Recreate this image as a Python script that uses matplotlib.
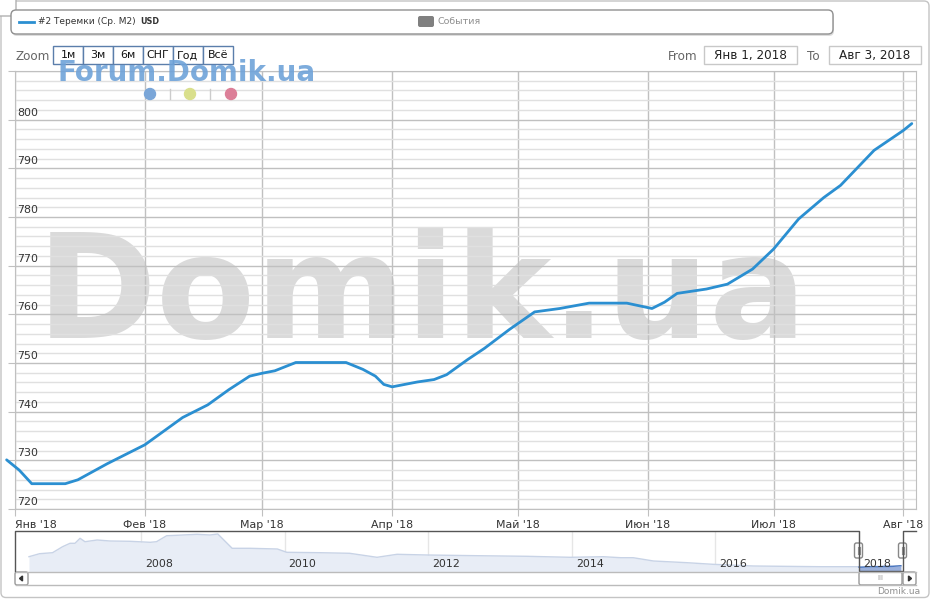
import matplotlib
matplotlib.use("Agg")
import matplotlib.pyplot as plt
from matplotlib.patches import FancyBboxPatch, Rectangle, Circle, Polygon
from datetime import datetime

# main series (USD per m2)
main_dates = ["2017-12-30", "2018-01-02", "2018-01-05", "2018-01-13", "2018-01-16",
              "2018-01-23", "2018-02-01", "2018-02-10", "2018-02-16", "2018-02-21",
              "2018-02-26", "2018-03-01", "2018-03-04", "2018-03-09", "2018-03-21",
              "2018-03-25", "2018-03-28", "2018-03-30", "2018-04-01", "2018-04-07",
              "2018-04-11", "2018-04-14", "2018-04-19", "2018-04-23", "2018-04-29",
              "2018-05-05", "2018-05-11", "2018-05-18", "2018-05-27", "2018-06-02",
              "2018-06-05", "2018-06-08", "2018-06-15", "2018-06-20", "2018-06-26",
              "2018-07-01", "2018-07-07", "2018-07-13", "2018-07-17", "2018-07-25",
              "2018-08-01", "2018-08-03"]
main_values = [730.1, 728.0, 725.2, 725.2, 726.0,
               729.3, 733.2, 738.8, 741.4, 744.5,
               747.3, 747.9, 748.4, 750.1, 750.1,
               748.7, 747.3, 745.6, 745.1, 746.1,
               746.6, 747.6, 750.7, 753.0, 756.9,
               760.5, 761.2, 762.3, 762.3, 761.2,
               762.5, 764.3, 765.2, 766.2, 769.3,
               773.4, 779.6, 784.0, 786.5, 793.7,
               797.8, 799.2]

# navigator (full history), rough readings
nav_dates = ["2006-06-10", "2006-08-03", "2006-10-08", "2006-11-28", "2007-01-05",
             "2007-01-30", "2007-02-25", "2007-03-22", "2007-05-23", "2007-07-27",
             "2007-11-06", "2008-02-17", "2008-03-20", "2008-05-11", "2008-07-01",
             "2008-10-12", "2008-12-17", "2009-01-26", "2009-04-09", "2009-07-09",
             "2009-11-25", "2010-01-12", "2010-06-28", "2010-11-28", "2011-04-16",
             "2011-07-27", "2011-12-28", "2012-09-05", "2013-05-19", "2013-12-24",
             "2014-06-10", "2014-09-06", "2014-11-10", "2015-02-21", "2015-08-11",
             "2015-12-20", "2016-07-13", "2017-06-17", "2018-01-08", "2018-08-03"]
nav_values = [1250, 1400, 1450, 1750, 1920,
              1920, 2170, 2000, 2085, 2035,
              2020, 1970, 2000, 2300, 2320,
              2370, 2335, 2385, 1670, 1670,
              1635, 1470, 1450, 1420, 1220,
              1370, 1335, 1300, 1270, 1220,
              1250, 1200, 1200, 1035, 950,
              870, 785, 750, 750, 785]

month_labels = ["Янв '18", "Фев '18", "Мар '18", "Апр '18", "Май '18", "Июн '18", "Июл '18", "Авг '18"]
nav_years = [2008, 2010, 2012, 2014, 2016, 2018]
zoom_buttons = ["1м", "3м", "6м", "СНГ", "Год", "Всё"]

W, H = 931, 600
LINE = "#2b8fd1"


def px_axes(x0, y0, x1, y1):
    return [x0 / W, 1 - y1 / H, (x1 - x0) / W, (y1 - y0) / H]


def pt(px):
    return px * 0.72


mdates_main = [datetime.strptime(d, "%Y-%m-%d") for d in main_dates]
mdates_nav = [datetime.strptime(d, "%Y-%m-%d") for d in nav_dates]
month_ticks = [datetime(2018, m, 1) for m in range(1, 9)]

fig = plt.figure(figsize=(W / 100, H / 100), dpi=100)

# overlay in pixel coordinates
ov = fig.add_axes([0, 0, 1, 1], zorder=10)
ov.set_xlim(0, W)
ov.set_ylim(H, 0)
ov.axis("off")

# main plot
ax = fig.add_axes(px_axes(15, 71, 916, 509))
ax.set_xlim(datetime(2018, 1, 1), datetime(2018, 8, 4))
ax.set_ylim(720, 810)
ax.set_yticks(range(720, 811, 10))
ax.set_yticks(range(720, 811, 2), minor=True)
ax.set_xticks(month_ticks)
ax.set_xticklabels(month_labels)
ax.set_axisbelow(True)
ax.yaxis.grid(True, which="major", color="#c0c0c0", lw=1)
ax.yaxis.grid(True, which="minor", color="#e0e0e0", lw=1)
ax.xaxis.grid(True, which="major", color="#c0c0c0", lw=1)
ax.tick_params(axis="y", which="major", length=5, color="#c0c0c0", labelleft=False)
ax.tick_params(axis="y", which="minor", length=0)
ax.tick_params(axis="x", length=5, color="#c0c0c0", labelsize=pt(11), labelcolor="#333333", pad=3)
for s in ax.spines.values():
    s.set_color("#c0c0c0")
for v in range(720, 801, 10):
    ax.annotate(str(v), (0, v), xycoords=("axes fraction", "data"), xytext=(2, 2),
                textcoords="offset pixels", fontsize=pt(11), color="#333333",
                ha="left", va="bottom")
# shift Jan label so it starts at the axis
ax.get_xticklabels()[0].set_horizontalalignment("left")

# big watermark behind the grid
ax.text(37, 338, "Domik.ua", transform=ov.transData, fontsize=104, fontweight="bold",
        color="#dadada", ha="left", va="baseline", zorder=0.2, clip_on=False)

ax.plot(mdates_main, main_values, color=LINE, lw=2, zorder=4, clip_on=False,
        solid_joinstyle="round", solid_capstyle="round")

# navigator
axn = fig.add_axes(px_axes(16, 531, 916, 571.7))
axn.set_xlim(datetime(2006, 4, 5), datetime(2018, 10, 19))
axn.set_ylim(500, 2535)
axn.fill_between(mdates_nav, nav_values, 500, color="#e8edf6", lw=0)
axn.plot(mdates_nav, nav_values, color="#c8d3e6", lw=1)
sel = [d for d in mdates_main if d >= datetime(2018, 1, 1)]
selv = main_values[-len(sel):]
axn.fill_between(sel, selv, 500, color="#9ab0dc", lw=0)
axn.plot(sel, selv, color="#4a76bf", lw=1)
for yr in nav_years:
    d = datetime(yr, 1, 1)
    axn.axvline(d, color="#e6e6e6", lw=1, zorder=0)
    axn.annotate(str(yr), (d, 0), xycoords=("data", "axes fraction"), xytext=(4, 3),
                 textcoords="offset pixels", fontsize=pt(11), color="#333333",
                 ha="left", va="bottom")
axn.set_xticks([])
axn.set_yticks([])
for s in axn.spines.values():
    s.set_visible(False)

# navigator outline and handles
ov.plot([15, 15, 858.5, 858.5, 902.5, 902.5, 916], [571, 531, 531, 571, 571, 531, 531],
        color="#555555", lw=1)
for hx in (858.5, 902.5):
    ov.add_patch(FancyBboxPatch((hx - 4, 543), 8, 15, boxstyle="round,pad=0,rounding_size=2",
                                fc="white", ec="#888888", lw=1))
    ov.plot([hx - 1, hx - 1], [547, 554], color="#888888", lw=0.8)
    ov.plot([hx + 1, hx + 1], [547, 554], color="#888888", lw=0.8)

# scrollbar
ov.plot([16, 916], [572, 572], color="#bbbbbb", lw=1)
ov.plot([16, 916], [585, 585], color="#bbbbbb", lw=1)
ov.add_patch(FancyBboxPatch((15, 572), 13, 13, boxstyle="round,pad=0,rounding_size=2",
                            fc="white", ec="#999999", lw=1))
ov.add_patch(Polygon([[22.5, 576], [22.5, 581], [19.5, 578.5]], color="#333333"))
ov.add_patch(FancyBboxPatch((859, 572), 43, 13, boxstyle="round,pad=0,rounding_size=2",
                            fc="white", ec="#999999", lw=1))
ov.text(880.5, 578.5, "III", fontsize=pt(7), color="#999999", ha="center", va="center")
ov.add_patch(FancyBboxPatch((903, 572), 13, 13, boxstyle="round,pad=0,rounding_size=2",
                            fc="white", ec="#999999", lw=1))
ov.add_patch(Polygon([[908.5, 576], [908.5, 581], [911.5, 578.5]], color="#333333"))
ov.text(920, 591, "Domik.ua", fontsize=pt(9), color="#909090", ha="right", va="center")

# outer frame and corner button
ov.add_patch(FancyBboxPatch((1, 1), 928, 596.5, boxstyle="round,pad=0,rounding_size=5",
                            fc="none", ec="#c4c4c4", lw=1))
ov.add_patch(FancyBboxPatch((-4, -4), 20, 20, boxstyle="round,pad=0,rounding_size=4",
                            fc="white", ec="#b0b0b0", lw=1))

# legend box
ov.add_patch(FancyBboxPatch((12, 12), 822, 24, boxstyle="round,pad=0,rounding_size=5",
                            fc="#dddddd", ec="none"))
ov.add_patch(FancyBboxPatch((11, 10), 822, 24, boxstyle="round,pad=0,rounding_size=5",
                            fc="white", ec="#909090", lw=1))
ov.plot([19, 34], [22, 22], color=LINE, lw=2)
ov.text(38, 22, "#2 Теремки (Ср. М2)", fontsize=pt(9), color="#333333", ha="left", va="center")
ov.text(140, 22, "USD", fontsize=pt(8), fontweight="bold", color="#333333", ha="left", va="center")
ov.add_patch(FancyBboxPatch((418, 16), 16, 11, boxstyle="round,pad=0,rounding_size=2",
                            fc="#808080", ec="none"))
ov.text(438, 22, "События", fontsize=pt(9.5), color="#909090", ha="left", va="center")

# range selector
ov.text(15, 56, "Zoom", fontsize=pt(12), color="#666666", ha="left", va="center")
for i, lbl in enumerate(zoom_buttons):
    x0 = 53 + 30 * i
    ov.add_patch(Rectangle((x0, 46), 30, 18, fc="white", ec="#5b7eab", lw=1))
    ov.text(x0 + 15, 55.5, lbl, fontsize=pt(11), color="#111111", ha="center", va="center")
ov.text(668, 56, "From", fontsize=pt(12), color="#666666", ha="left", va="center")
ov.add_patch(Rectangle((704, 46), 93, 18, fc="white", ec="#c8c8c8", lw=1))
ov.text(750.5, 55.5, "Янв 1, 2018", fontsize=pt(12), color="#222222", ha="center", va="center")
ov.text(807, 56, "To", fontsize=pt(12), color="#666666", ha="left", va="center")
ov.add_patch(Rectangle((829, 46), 92, 18, fc="white", ec="#c8c8c8", lw=1))
ov.text(875, 55.5, "Авг 3, 2018", fontsize=pt(12), color="#222222", ha="center", va="center")

# small watermark and dots
ov.text(57, 81, "Forum.Domik.ua", fontsize=20, fontweight="bold", color="#6fa3d9",
        alpha=0.9, ha="left", va="baseline")
for cx, c in ((150, "#7aa6d8"), (190, "#d9df8c"), (231, "#dc7f98")):
    ov.add_patch(Circle((cx, 94), 5.5, color=c))
ov.plot([170, 170], [89, 99], color="#cccccc", lw=1)
ov.plot([210, 210], [89, 99], color="#cccccc", lw=1)

fig.savefig("out.png", dpi=100)
